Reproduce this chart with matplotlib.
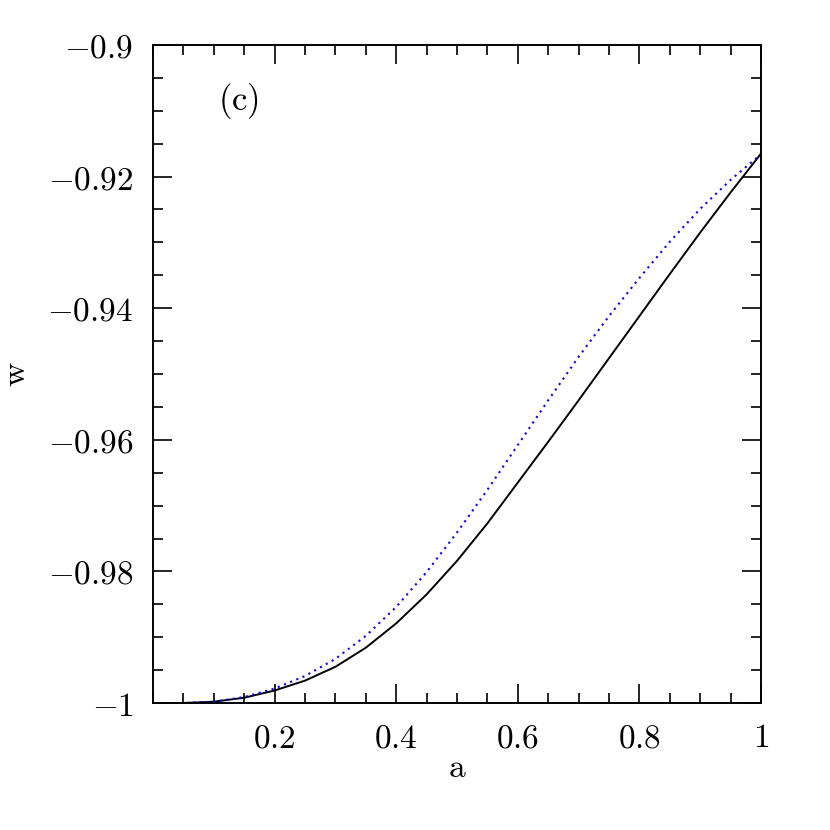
import matplotlib
matplotlib.use("Agg")
import matplotlib.pyplot as plt
from matplotlib.ticker import MultipleLocator, FixedLocator, FixedFormatter

# Wartości
a = [0.0, 0.05, 0.1, 0.15, 0.2, 0.25, 0.3, 0.35, 0.4, 0.45, 0.5,
     0.55, 0.6, 0.65, 0.7, 0.75, 0.8, 0.85, 0.9, 0.95, 1.0]
w_czarna = [-1.0, -1.0, -0.9998, -0.9992, -0.9981, -0.9966, -0.9945, -0.9916,
            -0.9879, -0.9835, -0.9784, -0.9727, -0.9665, -0.9603, -0.9540,
            -0.9476, -0.9412, -0.9348, -0.9285, -0.9224, -0.9165]
w_niebieska = [-1.0, -1.0, -0.9998, -0.9991, -0.9978, -0.9959, -0.9933, -0.9898,
               -0.9854, -0.9801, -0.9741, -0.9676, -0.9608, -0.9540, -0.9474,
               -0.9412, -0.9354, -0.9299, -0.9249, -0.9205, -0.9166]

x_ticks = [0.2, 0.4, 0.6, 0.8, 1.0]
x_labels = ["0.2", "0.4", "0.6", "0.8", "1"]
y_ticks = [-1.0, -0.98, -0.96, -0.94, -0.92, -0.9]
y_labels = ["-1", "-0.98", "-0.96", "-0.94", "-0.92", "-0.9"]

plt.rcParams['mathtext.fontset'] = 'cm'
plt.rcParams['font.family'] = 'serif'
plt.rcParams['font.serif'] = ['DejaVu Serif']

fig = plt.figure(figsize=(8.3, 8.3), dpi=100)
ax = fig.add_axes([0.1843, 0.153, 0.7326, 0.7928])

ax.plot(a, w_czarna, color='black', linewidth=1.4)
ax.plot(a, w_niebieska, color='blue', linewidth=1.5, linestyle=(0, (1, 2.2)))

ax.set_xlim(0, 1)
ax.set_ylim(-1, -0.9)

ax.xaxis.set_major_locator(FixedLocator(x_ticks))
ax.xaxis.set_major_formatter(FixedFormatter([f"${t}$" for t in x_labels]))
ax.xaxis.set_minor_locator(MultipleLocator(0.05))
ax.yaxis.set_major_locator(FixedLocator(y_ticks))
ax.yaxis.set_major_formatter(FixedFormatter([f"${t}$" for t in y_labels]))
ax.yaxis.set_minor_locator(MultipleLocator(0.005))

ax.tick_params(which='both', direction='in', top=True, right=True, width=1.2)
ax.tick_params(which='major', length=14, labelsize=24, pad=14)
ax.tick_params(which='minor', length=7)
for s in ax.spines.values():
    s.set_linewidth(1.4)

ax.set_xlabel(r"$\mathrm{a}$", fontsize=24, labelpad=-2)
ax.set_ylabel(r"$\mathrm{w}$", fontsize=24, labelpad=11)
ax.text(0.14, 0.915, r"$\mathrm{(c)}$", transform=ax.transAxes,
        fontsize=25, ha='center', va='center')

fig.savefig("out.png", dpi=100)
